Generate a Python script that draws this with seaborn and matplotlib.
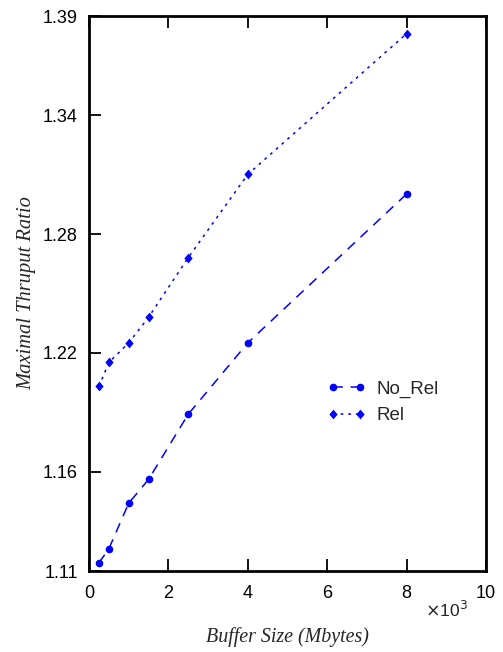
import matplotlib
matplotlib.use("Agg")
import matplotlib.pyplot as plt
import seaborn as sns
import pandas as pd

# Data (x in 10^3 Mbytes)
buffer_size = [0.25, 0.5, 1.0, 1.5, 2.5, 4.0, 8.0]
no_rel = [1.1141, 1.1212, 1.1442, 1.1562, 1.1891, 1.2251, 1.3002]
rel = [1.2031, 1.2152, 1.2251, 1.2380, 1.2681, 1.3101, 1.3811]
x_ticks = [0, 2, 4, 6, 8, 10]
y_ticks = [1.11, 1.16, 1.22, 1.28, 1.34, 1.39]

sns.set_theme(style="white")
plt.rcParams['font.family'] = ['Liberation Sans', 'DejaVu Sans']

df = pd.DataFrame({"x": buffer_size, "No_Rel": no_rel, "Rel": rel})

fig = plt.figure(figsize=(5.03, 6.52), dpi=100)
ax = fig.add_axes([89/503, 1-571/652, (486-89)/503, (571-16)/652])

diamond = [(0, 1), (0.85, 0), (0, -1), (-0.85, 0), (0, 1)]

sns.lineplot(data=df, x="x", y="No_Rel", ax=ax, color="#0000ff", marker="o",
             markersize=5.5, markeredgewidth=0, linewidth=1.1,
             linestyle=(0, (6.5, 5)), label="No_Rel")
sns.lineplot(data=df, x="x", y="Rel", ax=ax, color="#0000ff", marker=diamond,
             markersize=7, markeredgewidth=0, linewidth=1.1,
             linestyle=(0, (1.8, 3.2)), label="Rel")

ax.set_xlim(0, 10)
ax.set_ylim(1.11, 1.39)
ax.set_xticks(x_ticks)
ax.set_xticklabels([str(t) for t in x_ticks])
ax.set_yticks(y_ticks)
ax.set_yticklabels([f"{t:.2f}" for t in y_ticks])

for s in ax.spines.values():
    s.set_color("black")
    s.set_linewidth(2)
ax.tick_params(axis="x", which="both", direction="in", length=8.5, width=1.3,
               top=True, bottom=True, labelsize=13, pad=10, colors="black")
ax.tick_params(axis="y", which="both", direction="in", length=8.5, width=1.3,
               left=True, right=False, labelsize=13, pad=8, colors="black")

ax.set_xlabel("Buffer Size (Mbytes)", fontfamily="Liberation Serif",
              fontstyle="italic", fontsize=14.4, labelpad=18)
ax.set_ylabel("Maximal Thruput Ratio", fontfamily="Liberation Serif",
              fontstyle="italic", fontsize=14.8, labelpad=5)

fig.text(425/503, 1-610/652, r"$\times$10$^{3}$", fontsize=12.5,
         ha="left", va="center")

leg = ax.legend(loc="center left", bbox_to_anchor=(0.557, 0.304), frameon=False,
                fontsize=13.5, handlelength=2.05, numpoints=2,
                handletextpad=0.6, labelspacing=0.5)

fig.savefig("out.png", dpi=100)
